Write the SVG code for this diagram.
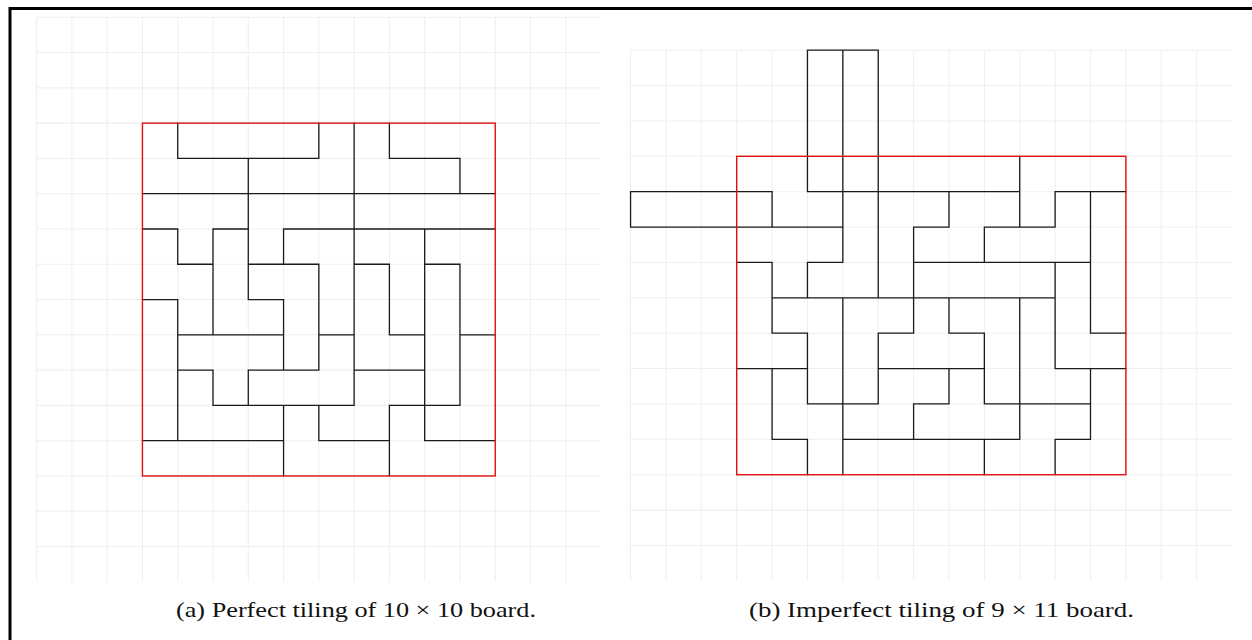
<svg xmlns="http://www.w3.org/2000/svg" width="1252" height="640" viewBox="0 0 1252 640">
<style>
.grid{fill:none;stroke:#efefef;stroke-width:0.03}
.tile{fill:none;stroke:#1a1a1a;stroke-width:0.037;stroke-linecap:square}
.board{fill:none;stroke:#e01010;stroke-width:0.04}
.cap{font-family:"Liberation Serif","DejaVu Serif",serif;font-size:21.5px;fill:#111}
</style>
<rect width="1252" height="640" fill="#fff"/>
<g id="frame"><path d="M10 640V8.5H1252" fill="none" stroke="#000" stroke-width="3"/></g>
<g id="panel-a" transform="translate(142.44,123.14) scale(35.28)">
<path class="grid" d="M-3 -3V13M-2 -3V13M-1 -3V13M0 -3V13M1 -3V13M2 -3V13M3 -3V13M4 -3V13M5 -3V13M6 -3V13M7 -3V13M8 -3V13M9 -3V13M10 -3V13M11 -3V13M12 -3V13M-3 -3H13M-3 -2H13M-3 -1H13M-3 0H13M-3 1H13M-3 2H13M-3 3H13M-3 4H13M-3 5H13M-3 6H13M-3 7H13M-3 8H13M-3 9H13M-3 10H13M-3 11H13M-3 12H13"/>
<path class="tile" d="M1 1H5M7 1H9M0 2H10M0 3H1M2 3H3M4 3H10M1 4H2M3 4H5M6 4H7M8 4H9M0 5H1M3 5H4M1 6H4M5 6H6M7 6H8M9 6H10M1 7H2M3 7H5M6 7H8M2 8H6M7 8H9M0 9H4M5 9H7M8 9H10M1 0V1M1 3V4M1 5V9M2 3V6M2 7V8M3 1V5M3 7V8M4 3V4M4 5V7M4 8V10M5 0V1M5 4V7M5 8V9M6 0V8M7 0V1M7 4V6M7 8V10M8 3V9M9 1V2M9 4V8"/>
<rect class="board" x="0" y="0" width="10" height="10"/>
</g>
<g id="panel-b" transform="translate(736.7,156.3) scale(35.38)">
<path class="grid" d="M-3 -3V12M-2 -3V12M-1 -3V12M0 -3V12M1 -3V12M2 -3V12M3 -3V12M4 -3V12M5 -3V12M6 -3V12M7 -3V12M8 -3V12M9 -3V12M10 -3V12M11 -3V12M12 -3V12M13 -3V12M-3 -3H14M-3 -2H14M-3 -1H14M-3 0H14M-3 1H14M-3 2H14M-3 3H14M-3 4H14M-3 5H14M-3 6H14M-3 7H14M-3 8H14M-3 9H14M-3 10H14M-3 11H14"/>
<path class="tile" d="M2 -3H4M-3 1H1M2 1H8M9 1H11M-3 2H3M5 2H6M7 2H9M0 3H1M2 3H3M5 3H10M1 4H9M1 5H2M4 5H5M6 5H7M10 5H11M0 6H2M4 6H7M9 6H11M2 7H4M5 7H6M7 7H10M1 8H2M3 8H8M9 8H10M-3 1V2M1 1V2M1 3V5M1 6V8M2 -3V1M2 3V4M2 5V7M2 8V9M3 -3V3M3 4V9M4 -3V4M4 5V7M5 2V5M5 7V8M6 1V2M6 4V5M6 6V7M7 2V3M7 5V7M7 8V9M8 0V2M8 4V8M9 1V2M9 3V6M9 8V9M10 1V5M10 6V8"/>
<rect class="board" x="0" y="0" width="11" height="9"/>
</g>
<g id="captions">
<text class="cap" x="176" y="617" textLength="360" lengthAdjust="spacingAndGlyphs">(a) Perfect tiling of 10 × 10 board.</text>
<text class="cap" x="749" y="617" textLength="385" lengthAdjust="spacingAndGlyphs">(b) Imperfect tiling of 9 × 11 board.</text>
</g>
</svg>
